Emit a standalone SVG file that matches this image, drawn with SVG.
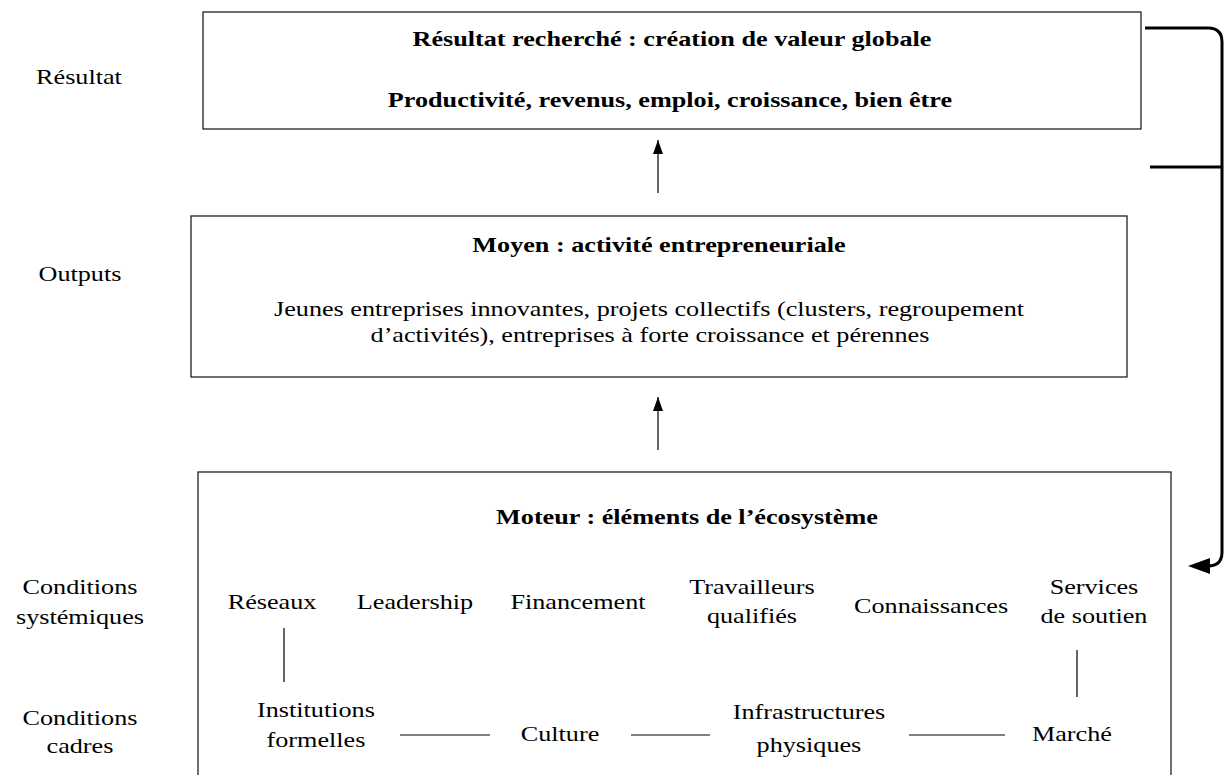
<svg xmlns="http://www.w3.org/2000/svg" width="1227" height="775" viewBox="0 0 1227 775">
<style>
text{font-family:"Liberation Serif","Times New Roman",serif;font-size:22px;fill:#000;text-anchor:middle}
.b{font-weight:bold}
.box{fill:#fff;stroke:#222;stroke-width:1.3}
.ln{stroke:#000;stroke-width:1.2;fill:none}
.thick{stroke:#000;stroke-width:3;fill:none}
</style>
<defs>
<marker id="ah" viewBox="0 0 14 10" refX="14" refY="5" markerWidth="14" markerHeight="10" markerUnits="userSpaceOnUse" orient="auto"><path d="M0,0L14,5L0,10z" fill="#000"/></marker>
<marker id="ah2" viewBox="0 0 22 16" refX="2" refY="8" markerWidth="22" markerHeight="16" markerUnits="userSpaceOnUse" orient="auto"><path d="M0,0L22,8L0,16z" fill="#000"/></marker>
</defs>
<g id="labels">
<text transform="scale(1.19,1)" x="66.4" y="84">Résultat</text>
<text transform="scale(1.19,1)" x="67.2" y="281">Outputs</text>
<text transform="scale(1.19,1)" x="67.2" y="594">Conditions</text>
<text transform="scale(1.19,1)" x="67.2" y="624">systémiques</text>
<text transform="scale(1.19,1)" x="67.2" y="725">Conditions</text>
<text transform="scale(1.19,1)" x="67.2" y="753">cadres</text>
</g>
<g id="resultat">
<rect class="box" x="203" y="12" width="938" height="117"/>
<text class="b" transform="scale(1.19,1)" x="564.7" y="46">Résultat recherché : création de valeur globale</text>
<text class="b" transform="scale(1.19,1)" x="563" y="107">Productivité, revenus, emploi, croissance, bien être</text>
</g>
<g id="moyen">
<rect class="box" x="191" y="216" width="936" height="161"/>
<text class="b" transform="scale(1.19,1)" x="553.8" y="252">Moyen : activité entrepreneuriale</text>
<text transform="scale(1.19,1)" x="545.4" y="316">Jeunes entreprises innovantes, projets collectifs (clusters, regroupement</text>
<text transform="scale(1.19,1)" x="546.2" y="342">d’activités), entreprises à forte croissance et pérennes</text>
</g>
<g id="moteur">
<rect class="box" x="198" y="472" width="973" height="320"/>
<text class="b" transform="scale(1.19,1)" x="577.3" y="524">Moteur : éléments de l’écosystème</text>
</g>
<g id="reseaux"><text transform="scale(1.19,1)" x="228.6" y="609">Réseaux</text></g>
<g id="leadership"><text transform="scale(1.19,1)" x="348.7" y="609">Leadership</text></g>
<g id="financement"><text transform="scale(1.19,1)" x="485.7" y="609">Financement</text></g>
<g id="travailleurs"><text transform="scale(1.19,1)" x="631.9" y="594">Travailleurs</text><text transform="scale(1.19,1)" x="631.9" y="623">qualifiés</text></g>
<g id="connaissances"><text transform="scale(1.19,1)" x="782.4" y="613">Connaissances</text></g>
<g id="services"><text transform="scale(1.19,1)" x="919.3" y="594">Services</text><text transform="scale(1.19,1)" x="919.3" y="623">de soutien</text></g>
<g id="institutions"><text transform="scale(1.19,1)" x="265.5" y="717">Institutions</text><text transform="scale(1.19,1)" x="265.5" y="747">formelles</text></g>
<g id="culture"><text transform="scale(1.19,1)" x="470.6" y="741">Culture</text></g>
<g id="infrastructures"><text transform="scale(1.19,1)" x="679.8" y="719">Infrastructures</text><text transform="scale(1.19,1)" x="679.8" y="752">physiques</text></g>
<g id="marche"><text transform="scale(1.19,1)" x="900.8" y="741">Marché</text></g>
<g id="connectors">
<line class="ln" x1="658" y1="193" x2="658" y2="140" marker-end="url(#ah)"/>
<line class="ln" x1="658" y1="450" x2="658" y2="397" marker-end="url(#ah)"/>
<line class="ln" x1="284" y1="628" x2="284" y2="682"/>
<line class="ln" x1="1077" y1="650" x2="1077" y2="697"/>
<line class="ln" x1="400" y1="735" x2="490" y2="735"/>
<line class="ln" x1="631" y1="735" x2="710" y2="735"/>
<line class="ln" x1="909" y1="735" x2="1005" y2="735"/>
<path class="thick" d="M1145,28 H1208 Q1222,28 1222,42 V552 Q1222,566 1208,566" marker-end="url(#ah2)"/>
<line class="thick" x1="1150" y1="167" x2="1222" y2="167"/>
</g>
</svg>
